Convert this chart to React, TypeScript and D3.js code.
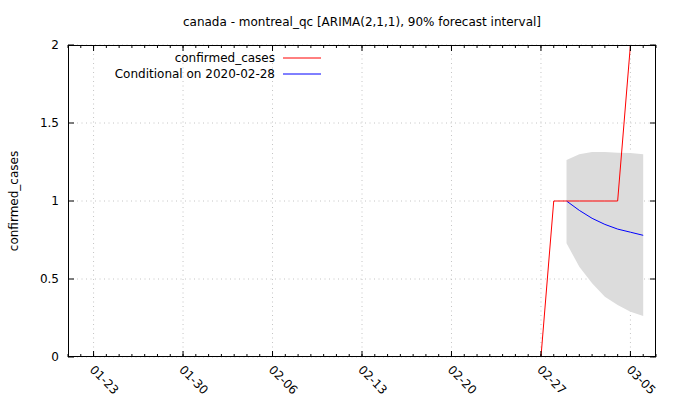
import React from "react";
import * as d3 from "d3";

const W = 680, H = 400;
const M = { left: 68, right: 656, top: 45, bottom: 357 };

const titleText = "canada - montreal_qc [ARIMA(2,1,1), 90% forecast interval]";
const yLabel = "confirmed_cases";
const legendLabels = ["confirmed_cases", "Conditional on 2020-02-28"];

const xTickDates = ["2020-01-23", "2020-01-30", "2020-02-06", "2020-02-13", "2020-02-20", "2020-02-27", "2020-03-05"];
const xTickLabels = ["01-23", "01-30", "02-06", "02-13", "02-20", "02-27", "03-05"];
const yTicks = [0, 0.5, 1, 1.5, 2];
const yTickLabels = ["0", "0.5", "1", "1.5", "2"];

const obsDates = ["2020-01-23", "2020-01-30", "2020-02-06", "2020-02-13", "2020-02-20", "2020-02-26", "2020-02-27", "2020-02-28", "2020-02-29", "2020-03-01", "2020-03-02", "2020-03-03", "2020-03-04", "2020-03-05", "2020-03-06"];
const obsValues = [0, 0, 0, 0, 0, 0, 0, 1, 1, 1, 1, 1, 1, 2, 3];

const fcDates = ["2020-02-29", "2020-03-01", "2020-03-02", "2020-03-03", "2020-03-04", "2020-03-05", "2020-03-06"];
const fcMean = [1.0, 0.94, 0.889, 0.85, 0.82, 0.80, 0.78];
const fcUpper = [1.263, 1.30, 1.314, 1.314, 1.31, 1.307, 1.30];
const fcLower = [0.729, 0.579, 0.472, 0.386, 0.333, 0.29, 0.263];

const parse = d3.utcParse("%Y-%m-%d");

export default function App() {
  const x = d3.scaleUtc().domain([parse("2020-01-21")!, parse("2020-03-07")!]).range([M.left, M.right]);
  const y = d3.scaleLinear().domain([0, 2]).range([M.bottom, M.top]);
  const font = "DejaVu Sans";

  const obs = obsDates.map((d, i) => ({ x: parse(d)!, y: obsValues[i] }));
  const fc = fcDates.map((d, i) => ({ x: parse(d)!, m: fcMean[i], u: fcUpper[i], l: fcLower[i] }));
  const line = d3.line<{ x: Date; y: number }>().x(d => x(d.x)).y(d => y(d.y));
  const area = d3.area<typeof fc[0]>().x(d => x(d.x)).y0(d => y(d.l)).y1(d => y(d.u));
  const meanLine = d3.line<typeof fc[0]>().x(d => x(d.x)).y(d => y(d.m));

  const minorDays = d3.utcDay.range(x.domain()[0], d3.utcDay.offset(x.domain()[1], 1));

  return (
    <svg width={W} height={H} style={{ position: "absolute", left: 0, top: 0, background: "#fff" }} fontFamily={font}>
      <defs>
        <clipPath id="plot">
          <rect x={M.left} y={M.top} width={M.right - M.left} height={M.bottom - M.top} />
        </clipPath>
      </defs>
      <rect width={W} height={H} fill="#fff" />
      {xTickDates.map(d => (
        <line key={d} x1={x(parse(d)!)} x2={x(parse(d)!)} y1={M.top} y2={M.bottom} stroke="#c4c4c4" strokeWidth={1} strokeDasharray="1,3.5" />
      ))}
      {yTicks.map(v => (
        <line key={v} x1={M.left} x2={M.right} y1={y(v)} y2={y(v)} stroke="#c4c4c4" strokeWidth={1} strokeDasharray="1,3.5" />
      ))}
      <g clipPath="url(#plot)">
        <path d={area(fc)!} fill="#dcdcdc" />
        <path d={meanLine(fc)!} fill="none" stroke="#0000ff" strokeWidth={1} />
        <path d={line(obs)!} fill="none" stroke="#ff0000" strokeWidth={1} />
      </g>
      <rect x={M.left + 0.5} y={M.top + 0.5} width={M.right - M.left - 1} height={M.bottom - M.top - 1} fill="none" stroke="#000" strokeWidth={1} />
      {minorDays.map((d, i) => (
        <g key={i}>
          <line x1={x(d)} x2={x(d)} y1={M.bottom} y2={M.bottom - 3} stroke="#000" />
          <line x1={x(d)} x2={x(d)} y1={M.top} y2={M.top + 3} stroke="#000" />
        </g>
      ))}
      {xTickDates.map((d, i) => (
        <g key={d}>
          <line x1={x(parse(d)!)} x2={x(parse(d)!)} y1={M.bottom} y2={M.bottom - 6} stroke="#000" />
          <line x1={x(parse(d)!)} x2={x(parse(d)!)} y1={M.top} y2={M.top + 6} stroke="#000" />
          <text transform={`translate(${x(parse(d)!) - 2},${M.bottom + 11}) rotate(45)`} fontSize={12} fill="#000" dominantBaseline="middle">{xTickLabels[i]}</text>
        </g>
      ))}
      {yTicks.map((v, i) => (
        <g key={v}>
          <line x1={M.left} x2={M.left + 6} y1={y(v)} y2={y(v)} stroke="#000" />
          <line x1={M.right} x2={M.right - 6} y1={y(v)} y2={y(v)} stroke="#000" />
          <text x={M.left - 9} y={y(v)} textAnchor="end" dominantBaseline="central" fontSize={12} fill="#000">{yTickLabels[i]}</text>
        </g>
      ))}
      <text x={(M.left + M.right) / 2} y={26} textAnchor="middle" fontSize={12} fill="#000">{titleText}</text>
      <text transform={`translate(18,${(M.top + M.bottom) / 2}) rotate(-90)`} textAnchor="middle" fontSize={12} fill="#000">{yLabel}</text>
      <text x={275} y={58} textAnchor="end" dominantBaseline="central" fontSize={12} fill="#000">{legendLabels[0]}</text>
      <line x1={283} x2={321} y1={58} y2={58} stroke="#ff0000" />
      <text x={275} y={74} textAnchor="end" dominantBaseline="central" fontSize={12} fill="#000">{legendLabels[1]}</text>
      <line x1={283} x2={321} y1={74} y2={74} stroke="#0000ff" />
    </svg>
  );
}
